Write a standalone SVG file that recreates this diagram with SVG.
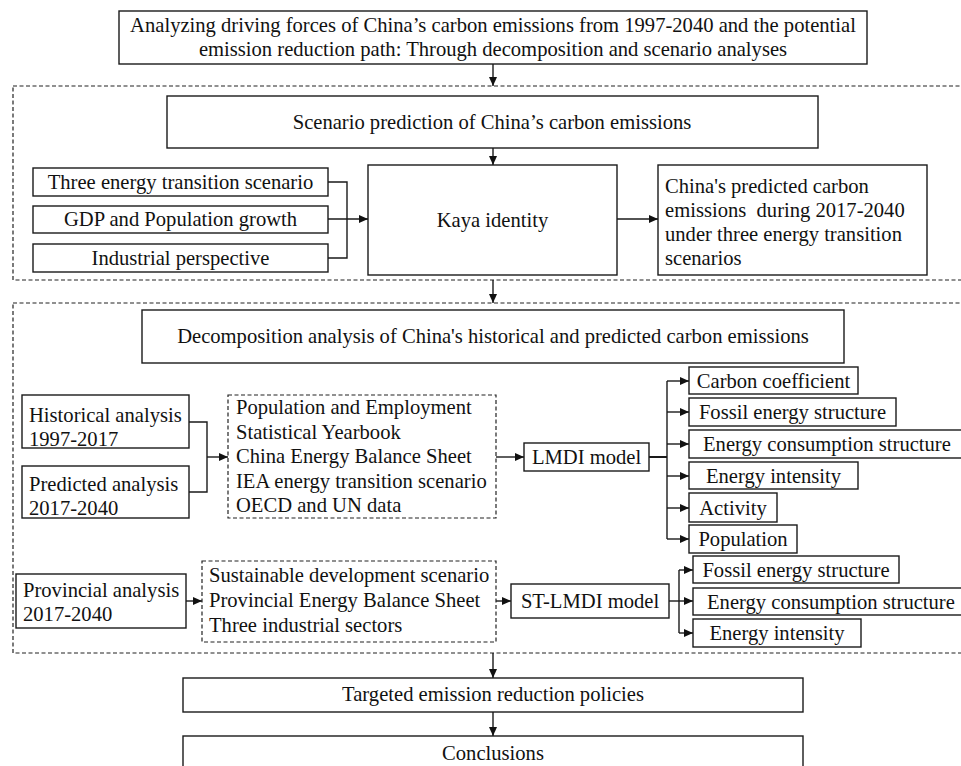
<svg xmlns="http://www.w3.org/2000/svg" width="961" height="766" viewBox="0 0 961 766">
<style>
  .box { fill: #fff; stroke: #1a1a1a; stroke-width: 1.4; }
  .dbox { fill: none; stroke: #222; stroke-width: 1.2; stroke-dasharray: 4 2.5; }
  .t { font-family: "Liberation Serif", "Times New Roman", serif; font-size: 20.6px; fill: #111; }
  .c { text-anchor: middle; }
  .ln { fill: none; stroke: #1a1a1a; stroke-width: 1.4; }
</style>
<defs>
  <marker id="ah" markerUnits="userSpaceOnUse" markerWidth="9" markerHeight="8" refX="9" refY="4" orient="auto">
    <path d="M0,0 L9,4 L0,8 z" fill="#111"/>
  </marker>
</defs>
<rect width="961" height="766" fill="#fff"/>

<!-- dashed group frames -->
<g id="frame-scenario"><rect class="dbox" x="13" y="86" width="956" height="194"/></g>
<g id="frame-decomposition"><rect class="dbox" x="13" y="303" width="956" height="350"/></g>

<g id="connectors">
  <path class="ln" d="M493,64 V86" marker-end="url(#ah)"/>
  <path class="ln" d="M493,148 V165" marker-end="url(#ah)"/>
  <path class="ln" d="M328,182 H347 V258 H328"/>
  <path class="ln" d="M328,219 H368" marker-end="url(#ah)"/>
  <path class="ln" d="M617,219 H658" marker-end="url(#ah)"/>
  <path class="ln" d="M493,280 V303" marker-end="url(#ah)"/>
  <path class="ln" d="M189,422 H207 V492 H189"/>
  <path class="ln" d="M207,457 H228" marker-end="url(#ah)"/>
  <path class="ln" d="M496,457 H524" marker-end="url(#ah)"/>
  <path class="ln" d="M649,457 H667" style="stroke-width:2"/>
  <path class="ln" d="M667,381 V539"/>
  <path class="ln" d="M667,381 H689" marker-end="url(#ah)"/>
  <path class="ln" d="M667,412 H689" marker-end="url(#ah)"/>
  <path class="ln" d="M667,444 H689" marker-end="url(#ah)"/>
  <path class="ln" d="M667,476 H689" marker-end="url(#ah)"/>
  <path class="ln" d="M667,508 H689" marker-end="url(#ah)"/>
  <path class="ln" d="M667,539 H689" marker-end="url(#ah)"/>
  <path class="ln" d="M186,601 H202" marker-end="url(#ah)"/>
  <path class="ln" d="M496,601 H511" marker-end="url(#ah)"/>
  <path class="ln" d="M669,601 H693" marker-end="url(#ah)"/>
  <path class="ln" d="M679,570 V633"/>
  <path class="ln" d="M679,570 H693" marker-end="url(#ah)"/>
  <path class="ln" d="M679,633 H693" marker-end="url(#ah)"/>
  <path class="ln" d="M493,653 V678" marker-end="url(#ah)"/>
  <path class="ln" d="M493,712 V736" marker-end="url(#ah)"/>
</g>

<g id="title">
  <rect class="box" x="119" y="11" width="748" height="53"/>
  <text class="t c" x="493" y="32">Analyzing driving forces of China’s carbon emissions from 1997-2040 and the potential</text>
  <text class="t c" x="493" y="56">emission reduction path: Through decomposition and scenario analyses</text>
</g>

<g id="scenario-prediction">
  <rect class="box" x="167" y="96" width="651" height="52"/>
  <text class="t c" x="492" y="129">Scenario prediction of China’s carbon emissions</text>
</g>

<g id="three-energy">
  <rect class="box" x="33" y="168" width="295" height="28"/>
  <text class="t c" x="180.5" y="189">Three energy transition scenario</text>
</g>
<g id="gdp-pop">
  <rect class="box" x="33" y="206" width="295" height="27"/>
  <text class="t c" x="180.5" y="226">GDP and Population growth</text>
</g>
<g id="industrial">
  <rect class="box" x="33" y="244" width="295" height="28"/>
  <text class="t c" x="180.5" y="265">Industrial perspective</text>
</g>

<g id="kaya">
  <rect class="box" x="368" y="165" width="249" height="110"/>
  <text class="t c" x="492.5" y="227">Kaya identity</text>
</g>

<g id="predicted-emissions">
  <rect class="box" x="658" y="165" width="269" height="110"/>
  <text class="t" x="665" y="193">China's predicted carbon</text>
  <text class="t" x="665" y="217" xml:space="preserve">emissions  during 2017-2040</text>
  <text class="t" x="665" y="241">under three energy transition</text>
  <text class="t" x="665" y="265">scenarios</text>
</g>

<g id="decomposition">
  <rect class="box" x="142" y="310" width="702" height="53"/>
  <text class="t c" x="493" y="343">Decomposition analysis of China's historical and predicted carbon emissions</text>
</g>

<g id="historical">
  <rect class="box" x="22" y="395" width="167" height="53"/>
  <text class="t" x="29" y="422">Historical analysis</text>
  <text class="t" x="29" y="446">1997-2017</text>
</g>
<g id="predicted">
  <rect class="box" x="22" y="466" width="167" height="52"/>
  <text class="t" x="29" y="491">Predicted analysis</text>
  <text class="t" x="29" y="515">2017-2040</text>
</g>

<g id="data-sources">
  <rect class="dbox" x="228" y="395" width="268" height="123"/>
  <text class="t" x="236" y="414">Population and Employment</text>
  <text class="t" x="236" y="438.6">Statistical Yearbook</text>
  <text class="t" x="236" y="463.2">China Energy Balance Sheet</text>
  <text class="t" x="236" y="487.8">IEA energy transition scenario</text>
  <text class="t" x="236" y="512.4">OECD and UN data</text>
</g>

<g id="lmdi">
  <rect class="box" x="524" y="443" width="125" height="28"/>
  <text class="t c" x="586.5" y="464">LMDI model</text>
</g>

<g id="f-carbon">
  <rect class="box" x="689" y="367" width="169" height="27"/>
  <text class="t c" x="773.5" y="388">Carbon coefficient</text>
</g>
<g id="f-fossil">
  <rect class="box" x="689" y="398" width="207" height="28"/>
  <text class="t c" x="792.5" y="419">Fossil energy structure</text>
</g>
<g id="f-consumption">
  <rect class="box" x="689" y="430" width="280" height="28"/>
  <text class="t" x="703" y="451">Energy consumption structure</text>
</g>
<g id="f-intensity">
  <rect class="box" x="689" y="462" width="169" height="27"/>
  <text class="t c" x="773.5" y="483">Energy intensity</text>
</g>
<g id="f-activity">
  <rect class="box" x="689" y="493" width="88" height="29"/>
  <text class="t c" x="733" y="515">Activity</text>
</g>
<g id="f-population">
  <rect class="box" x="689" y="525" width="108" height="28"/>
  <text class="t c" x="743" y="546">Population</text>
</g>

<g id="provincial">
  <rect class="box" x="16" y="574" width="170" height="54"/>
  <text class="t" x="23" y="597">Provincial analysis</text>
  <text class="t" x="23" y="621">2017-2040</text>
</g>

<g id="provincial-data">
  <rect class="dbox" x="202" y="561" width="294" height="81"/>
  <text class="t" x="209" y="582">Sustainable development scenario</text>
  <text class="t" x="209" y="607">Provincial Energy Balance Sheet</text>
  <text class="t" x="209" y="632">Three industrial sectors</text>
</g>

<g id="st-lmdi">
  <rect class="box" x="511" y="584" width="158" height="34"/>
  <text class="t c" x="590" y="608">ST-LMDI model</text>
</g>

<g id="s-fossil">
  <rect class="box" x="693" y="556" width="206" height="27"/>
  <text class="t c" x="796" y="577">Fossil energy structure</text>
</g>
<g id="s-consumption">
  <rect class="box" x="693" y="588" width="276" height="27"/>
  <text class="t" x="707" y="609">Energy consumption structure</text>
</g>
<g id="s-intensity">
  <rect class="box" x="693" y="619" width="168" height="28"/>
  <text class="t c" x="777" y="640">Energy intensity</text>
</g>

<g id="policies">
  <rect class="box" x="183" y="678" width="620" height="34"/>
  <text class="t c" x="493" y="701">Targeted emission reduction policies</text>
</g>

<g id="conclusions">
  <rect class="box" x="183" y="736" width="620" height="40"/>
  <text class="t c" x="493" y="760">Conclusions</text>
</g>
</svg>
